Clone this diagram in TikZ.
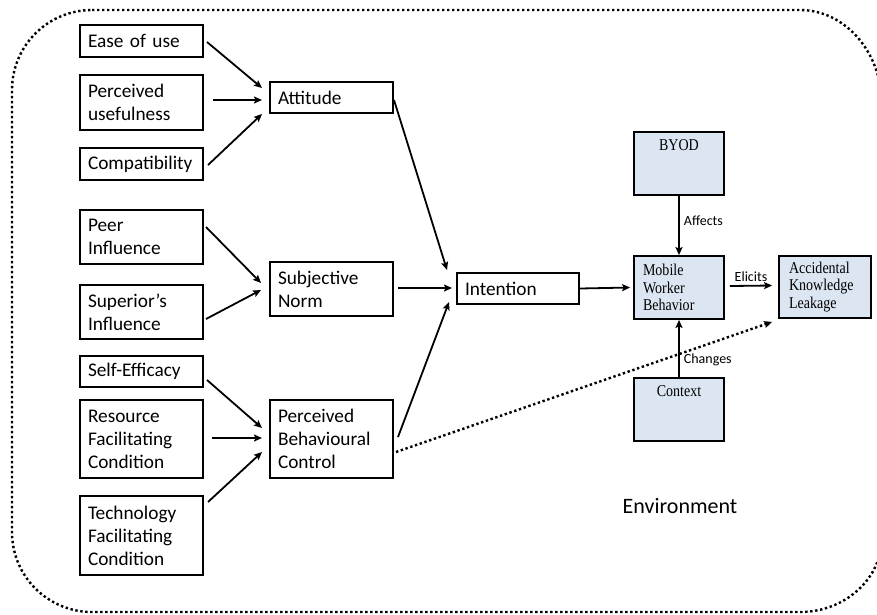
\documentclass[tikz,border=0pt]{standalone}
\usepackage{fontspec}
\setmainfont{Carlito}
\newfontfamily\serifb[FakeStretch=0.85]{Liberation Serif}
\usetikzlibrary{arrows.meta,calc}
\definecolor{boxblue}{RGB}{220,230,242}
\begin{document}
\begin{tikzpicture}[x=1pt,y=-1pt,
  cbox/.style={draw, line width=2pt, align=left, inner xsep=8pt, inner ysep=0pt,
    text width=107pt, font=\fontsize{19.3}{23}\selectfont},
  bbox/.style={draw, line width=1.8pt, fill=boxblue, align=left, inner xsep=9pt, inner ysep=0pt,
    text width=72pt, font=\serifb\fontsize{16.5}{17.5}\selectfont},
  btext/.style={font=\serifb\fontsize{16.5}{17.5}\selectfont, anchor=north, inner sep=0pt},
  lbl/.style={font=\fontsize{14}{16}\selectfont, inner sep=1pt},
  arr/.style={line width=1.8pt, -{Stealth[length=8pt,width=7pt,inset=1.5pt]}},
  dotl/.style={line width=2.4pt, dash pattern=on 2.4pt off 2.6pt},
]
\useasboundingbox (0,0) rectangle (877,614);
% environment border
\draw[dotl] (92,10) -- (800,10)
  arc[start angle=90, end angle=0, x radius=82pt, y radius=95pt] -- (882,537)
  arc[start angle=0, end angle=-90, x radius=82pt, y radius=75pt] -- (92,612)
  arc[start angle=270, end angle=180, radius=80pt] -- (12,90)
  arc[start angle=180, end angle=90, radius=80pt] -- cycle;

% left column
\node[cbox, minimum height=32pt] (ease) at (141.5,41) {Ease of use};
\node[cbox, minimum height=55pt] (useful) at (141.5,102.5) {Perceived\\usefulness};
\node[cbox, minimum height=32pt] (compat) at (141.5,164) {Compatibility};
\node[cbox, minimum height=54pt] (peer) at (141.5,237) {Peer\\Influence};
\node[cbox, minimum height=54pt] (superior) at (141.5,312) {Superior’s\\Influence};
\node[cbox, minimum height=31pt] (self) at (141.5,371.5) {Self-Efficacy};
\node[cbox, minimum height=78pt] (resource) at (141.5,439) {Resource\\Facilitating\\Condition};
\node[cbox, minimum height=79pt] (tech) at (141.5,535.5) {Technology\\Facilitating\\Condition};

% middle column
\node[cbox, minimum height=31pt] (attitude) at (331.5,97.5) {Attitude};
\node[cbox, minimum height=54pt] (subj) at (331.5,289) {Subjective\\Norm};
\node[cbox, minimum height=78pt] (pbc) at (331.5,439) {Perceived\\Behavioural\\Control};
\node[cbox, text width=106pt, minimum height=31pt] (intention) at (518,288.5) {Intention};

% right blue boxes
\node[bbox, minimum height=63pt] (byod) at (679,163.5) {};
\node[btext] (byodt) at ([yshift=-8.5pt]byod.north) {BYOD};
\node[bbox, minimum height=63pt] (mwb) at (679,287.5) {Mobile\\Worker\\Behavior};
\node[bbox, text width=72pt, inner xsep=10pt, minimum height=62pt] (akl) at (825,287) {Accidental\\Knowledge\\Leakage};
\node[bbox, minimum height=63pt] (context) at (679,409.5) {};
\node[btext] (contextt) at ([yshift=-8pt]context.north) {Context};

\node[font=\fontsize{22}{26}\selectfont] (env) at (680,506) {Environment};

% arrows into Attitude
\draw[arr] ([xshift=3pt,yshift=-1pt]ease.east) -- ([xshift=-7pt,yshift=9.5pt]attitude.west);
\draw[arr] ([xshift=9pt,yshift=2.5pt]useful.east) -- ([xshift=-7pt,yshift=-2.5pt]attitude.west);
\draw[arr] ([xshift=4pt,yshift=-1pt]compat.east) -- ([xshift=-7pt,yshift=-16.5pt]attitude.west);
% into Subjective Norm
\draw[arr] ([xshift=2pt,yshift=10pt]peer.east) -- ([xshift=-8pt,yshift=6pt]subj.west);
\draw[arr] ([xshift=2pt,yshift=-7pt]superior.east) -- ([xshift=-8pt,yshift=-1pt]subj.west);
% into PBC
\draw[arr] ([xshift=3pt,yshift=-8.5pt]self.east) -- ([xshift=-7pt,yshift=11pt]pbc.west);
\draw[arr] ([xshift=8pt,yshift=1pt]resource.east) -- ([xshift=-7pt,yshift=1pt]pbc.west);
\draw[arr] ([xshift=4pt,yshift=33.5pt]tech.east) -- ([xshift=-7pt,yshift=-13pt]pbc.west);
% into Intention
\draw[arr] ([yshift=-2.5pt]attitude.east) -- ([xshift=-9pt,yshift=18.5pt]intention.west);
\draw[arr] ([xshift=4pt,yshift=1pt]subj.east) -- ([xshift=-4pt,yshift=0.5pt]intention.west);
\draw[arr] ([xshift=4pt,yshift=2pt]pbc.east) -- ([xshift=-7pt,yshift=-13.5pt]intention.west);
% right part
\draw[arr] (intention.east) -- ([xshift=-3pt]mwb.west);
\draw[arr] (byod.south) -- node[lbl, anchor=west, xshift=3pt, pos=0.42] (affects) {Affects} (mwb.north);
\draw[arr] (context.north) -- node[lbl, anchor=west, xshift=3pt, pos=0.3] (changes) {Changes} (mwb.south);
\draw[arr] ([xshift=5pt,yshift=1.5pt]mwb.east) -- node[lbl, above, yshift=2pt] (elicits) {Elicits} ([xshift=-6pt,yshift=1.5pt]akl.west);
\draw[dotl, -{Stealth[length=8pt,width=7pt,inset=1.5pt]}] ([xshift=2pt,yshift=-13pt]pbc.east) -- ([xshift=-6pt,yshift=-3pt]akl.south west);
\end{tikzpicture}
\end{document}
